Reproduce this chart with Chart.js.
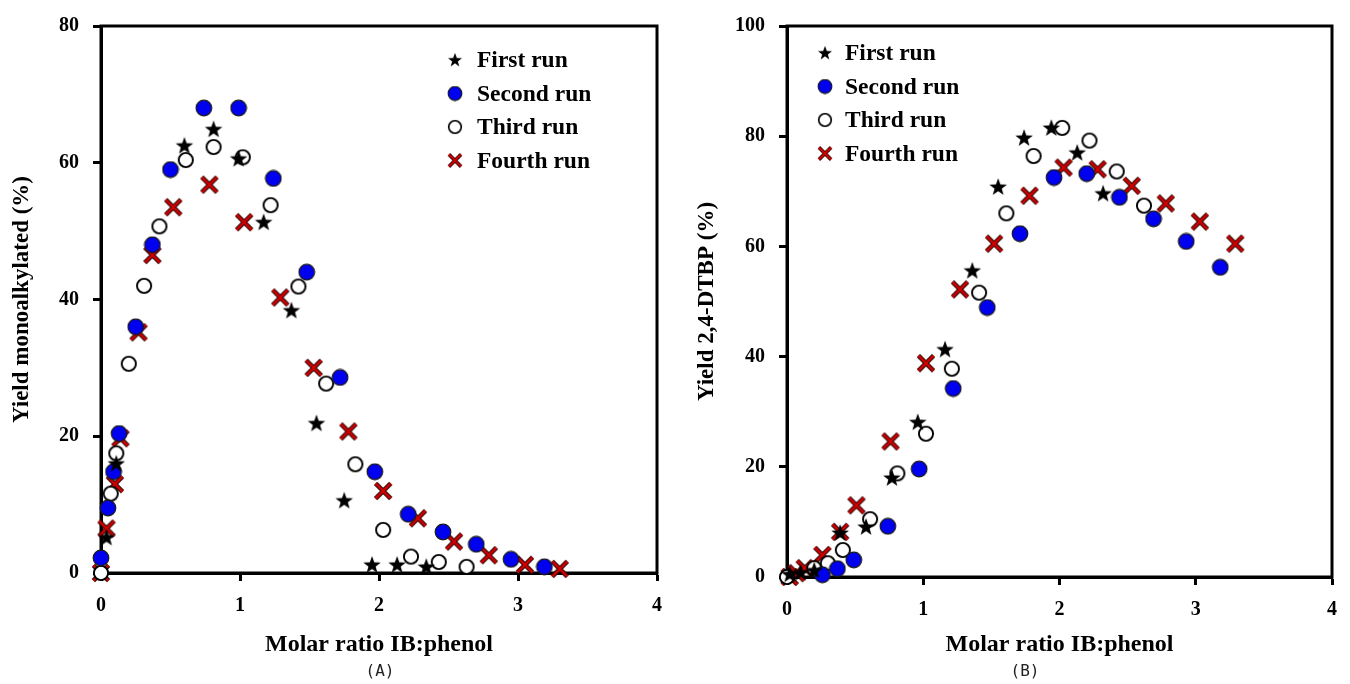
<!DOCTYPE html>
<html>
<head>
<meta charset="utf-8">
<script src="https://cdn.jsdelivr.net/npm/chart.js@4/dist/chart.umd.min.js"></script>
<style>
  html, body { margin: 0; padding: 0; background: #fff; }
  #wrap { display: flex; width: 1350px; height: 684px; }
  .cell { position: relative; width: 675px; height: 684px; }
  canvas { display: block; }
</style>
</head>
<body>
<div id="wrap">
  <div class="cell"><canvas id="chartA" width="675" height="684"></canvas></div>
  <div class="cell"><canvas id="chartB" width="675" height="684"></canvas></div>
</div>
<script>
// ---- Series labels ----
const runLabels = ['First run', 'Second run', 'Third run', 'Fourth run'];

// ---- Panel A: yield of monoalkylated product vs. molar ratio IB:phenol ----
const firstRunAx  = [0.04, 0.11, 0.60, 0.81, 0.99, 1.17, 1.37, 1.55, 1.75, 1.95, 2.13, 2.34];
const firstRunAy  = [5.2, 16.0, 62.5, 64.9, 60.6, 51.3, 38.4, 21.9, 10.6, 1.2, 1.2, 0.9];
const secondRunAx = [0.00, 0.05, 0.09, 0.13, 0.25, 0.37, 0.50, 0.74, 0.99, 1.24, 1.48, 1.72, 1.97, 2.21, 2.46, 2.70, 2.95, 3.19];
const secondRunAy = [2.2, 9.5, 14.8, 20.4, 36.0, 48.0, 59.0, 68.0, 68.0, 57.7, 44.0, 28.6, 14.8, 8.6, 6.0, 4.2, 2.0, 0.9];
const thirdRunAx  = [0.00, 0.07, 0.11, 0.20, 0.31, 0.42, 0.61, 0.81, 1.02, 1.22, 1.42, 1.62, 1.83, 2.03, 2.23, 2.43, 2.63];
const thirdRunAy  = [0.0, 11.6, 17.5, 30.6, 42.0, 50.7, 60.4, 62.3, 60.8, 53.8, 41.9, 27.7, 15.9, 6.3, 2.4, 1.6, 0.9];
const fourthRunAx = [0.00, 0.04, 0.10, 0.14, 0.27, 0.37, 0.52, 0.78, 1.03, 1.29, 1.53, 1.78, 2.03, 2.28, 2.54, 2.79, 3.05, 3.30];
const fourthRunAy = [0.0, 6.5, 13.0, 19.7, 35.2, 46.5, 53.5, 56.8, 51.3, 40.3, 30.0, 20.7, 12.0, 8.0, 4.6, 2.6, 1.2, 0.6];

// ---- Panel B: yield of 2,4-DTBP vs. molar ratio IB:phenol ----
const firstRunBx  = [0.02, 0.10, 0.20, 0.39, 0.58, 0.77, 0.96, 1.16, 1.36, 1.55, 1.74, 1.94, 2.13, 2.32];
const firstRunBy  = [0.5, 0.8, 1.2, 8.0, 9.1, 18.0, 28.1, 41.3, 55.6, 70.8, 79.7, 81.5, 77.0, 69.6];
const secondRunBx = [0.26, 0.37, 0.49, 0.74, 0.97, 1.22, 1.47, 1.71, 1.96, 2.20, 2.44, 2.69, 2.93, 3.18];
const secondRunBy = [0.4, 1.5, 3.1, 9.2, 19.6, 34.2, 48.9, 62.3, 72.5, 73.2, 68.9, 65.0, 60.9, 56.2];
const thirdRunBx  = [0.00, 0.20, 0.30, 0.41, 0.61, 0.81, 1.02, 1.21, 1.41, 1.61, 1.81, 2.02, 2.22, 2.42, 2.62];
const thirdRunBy  = [0.0, 1.6, 2.5, 4.9, 10.5, 18.8, 26.0, 37.8, 51.6, 66.0, 76.4, 81.5, 79.2, 73.6, 67.4];
const fourthRunBx = [0.02, 0.07, 0.13, 0.26, 0.39, 0.51, 0.76, 1.02, 1.27, 1.52, 1.78, 2.03, 2.28, 2.53, 2.78, 3.03, 3.29];
const fourthRunBy = [0.0, 0.7, 1.6, 4.0, 8.2, 13.0, 24.6, 38.8, 52.2, 60.5, 69.2, 74.3, 74.0, 71.0, 67.8, 64.5, 60.5];

// ---- Axis ticks ----
const xTicks  = [0, 1, 2, 3, 4];
const yTicksA = [0, 20, 40, 60, 80];
const yTicksB = [0, 20, 40, 60, 80, 100];

// ---- Marker sprites ----
function sprite(size, draw) {
  const c = document.createElement('canvas');
  c.width = size; c.height = size;
  draw(c.getContext('2d'), size / 2);
  return c;
}
const starMark = sprite(20, (g, m) => {
  g.beginPath();
  for (let i = 0; i < 10; i++) {
    const r = i % 2 === 0 ? 9.2 : 3.8;
    const a = -Math.PI / 2 + i * Math.PI / 5;
    const px = m + r * Math.cos(a), py = m + 0.5 + r * Math.sin(a);
    i === 0 ? g.moveTo(px, py) : g.lineTo(px, py);
  }
  g.closePath();
  g.fillStyle = '#000';
  g.fill();
});
const blueMark = sprite(18, (g, m) => {
  g.beginPath();
  g.arc(m, m, 7.8, 0, Math.PI * 2);
  g.fillStyle = '#0000f0';
  g.fill();
  g.lineWidth = 1.2;
  g.strokeStyle = '#1a1a1a';
  g.stroke();
});
const openMark = sprite(18, (g, m) => {
  g.beginPath();
  g.arc(m, m, 7.1, 0, Math.PI * 2);
  g.fillStyle = '#fff';
  g.fill();
  g.lineWidth = 1.9;
  g.strokeStyle = '#000';
  g.stroke();
});
const crossMark = sprite(20, (g, m) => {
  const d = 7.6;
  g.lineCap = 'butt';
  g.beginPath();
  g.moveTo(m - d, m - d); g.lineTo(m + d, m + d);
  g.moveTo(m + d, m - d); g.lineTo(m - d, m + d);
  g.strokeStyle = '#2a0000';
  g.lineWidth = 4.6;
  g.stroke();
  g.strokeStyle = '#d00000';
  g.lineWidth = 2.6;
  g.stroke();
});
const runMarks = [starMark, blueMark, openMark, crossMark];

function pts(xs, ys) { return xs.map((x, i) => ({ x: x, y: ys[i] })); }

function makeDatasets(series) {
  return series.map((s, i) => ({
    label: runLabels[i],
    data: pts(s[0], s[1]),
    pointStyle: runMarks[i],
    pointRadius: 8,
    showLine: false,
    clip: false
  }));
}

const serif = "'Liberation Serif', 'Times New Roman', serif";

// Closed frame around the plot area
const framePlugin = {
  id: 'frame',
  beforeDatasetsDraw(chart) {
    const { ctx, chartArea: a } = chart;
    ctx.save();
    ctx.strokeStyle = '#000';
    ctx.lineWidth = 3;
    ctx.strokeRect(a.left, a.top, a.right - a.left, a.bottom - a.top);
    ctx.restore();
  }
};

// Legend listed vertically inside the plot area
const insetLegend = {
  id: 'insetLegend',
  afterDatasetsDraw(chart, args, opts) {
    const { ctx } = chart;
    ctx.save();
    ctx.font = 'bold 23.5px ' + serif;
    ctx.fillStyle = '#000';
    ctx.textBaseline = 'middle';
    ctx.textAlign = 'left';
    chart.data.datasets.forEach((ds, i) => {
      const y = opts.y + i * opts.gap;
      const img = ds.pointStyle;
      const s = 16;
      ctx.drawImage(img, opts.markX - s / 2, y - s / 2, s, s);
      ctx.fillText(ds.label, opts.textX, y + 1);
    });
    ctx.restore();
  }
};

// Panel caption under the axis title
const captionPlugin = {
  id: 'caption',
  afterDraw(chart, args, opts) {
    const { ctx } = chart;
    ctx.save();
    ctx.font = "16px 'DejaVu Sans Mono', monospace";
    ctx.fillStyle = '#222';
    ctx.textAlign = 'center';
    ctx.textBaseline = 'middle';
    ctx.fillText(opts.text, opts.x, opts.y);
    ctx.restore();
  }
};

function makeChart(id, series, cfg) {
  return new Chart(document.getElementById(id), {
    type: 'scatter',
    data: { datasets: makeDatasets(series) },
    plugins: [framePlugin, insetLegend, captionPlugin],
    options: {
      responsive: false,
      animation: false,
      events: [],
      layout: { padding: { top: cfg.top, right: cfg.right, left: 0, bottom: 0 } },
      plugins: {
        legend: { display: false },
        tooltip: { enabled: false },
        insetLegend: cfg.legend,
        caption: cfg.caption
      },
      scales: {
        x: {
          type: 'linear',
          min: xTicks[0],
          max: xTicks[xTicks.length - 1],
          afterBuildTicks(scale) { scale.ticks = xTicks.map(v => ({ value: v })); },
          afterFit(scale) { scale.height = cfg.xAxisHeight; },
          border: { display: true, color: '#000', width: 3 },
          grid: { drawOnChartArea: false, drawTicks: true, tickLength: 8, tickWidth: 3, tickColor: '#000', color: '#000' },
          ticks: { color: '#000', padding: 13, font: { family: serif, size: 20, weight: 'bold' } },
          title: {
            display: true,
            text: 'Molar ratio IB:phenol',
            color: '#000',
            font: { family: serif, size: 24, weight: 'bold' },
            padding: { top: 0, bottom: 25 }
          }
        },
        y: {
          type: 'linear',
          min: cfg.yTicks[0],
          max: cfg.yTicks[cfg.yTicks.length - 1],
          afterBuildTicks(scale) { scale.ticks = cfg.yTicks.map(v => ({ value: v })); },
          afterFit(scale) { scale.width = cfg.yAxisWidth; },
          border: { display: true, color: '#000', width: 3 },
          grid: { drawOnChartArea: false, drawTicks: true, tickLength: 8, tickWidth: 3, tickColor: '#000', color: '#000' },
          ticks: { color: '#000', padding: 14, font: { family: serif, size: 20, weight: 'bold' } },
          title: {
            display: true,
            text: cfg.yTitle,
            color: '#000',
            font: { family: serif, size: 23, weight: 'bold' },
            padding: { top: cfg.yTitlePad, bottom: 0 }
          }
        }
      }
    }
  });
}

makeChart('chartA', [
  [firstRunAx, firstRunAy],
  [secondRunAx, secondRunAy],
  [thirdRunAx, thirdRunAy],
  [fourthRunAx, fourthRunAy]
], {
  top: 21, right: 17, xAxisHeight: 111, yAxisWidth: 101, yTitlePad: 8,
  yTicks: yTicksA,
  yTitle: 'Yield monoalkylated (%)',
  legend: { markX: 455, textX: 477, y: 60, gap: 33.5 },
  caption: { text: '(A)', x: 380, y: 672 }
});

makeChart('chartB', [
  [firstRunBx, firstRunBy],
  [secondRunBx, secondRunBy],
  [thirdRunBx, thirdRunBy],
  [fourthRunBx, fourthRunBy]
], {
  top: 25, right: 4, xAxisHeight: 107, yAxisWidth: 112, yTitlePad: 18,
  yTicks: yTicksB,
  yTitle: 'Yield 2,4-DTBP (%)',
  legend: { markX: 150, textX: 170, y: 53, gap: 33.5 },
  caption: { text: '(B)', x: 350, y: 672 }
});
</script>
</body>
</html>
